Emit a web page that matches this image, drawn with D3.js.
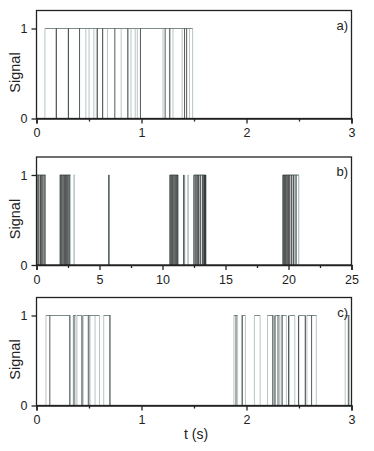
<!DOCTYPE html>
<html>
<head>
<meta charset="utf-8">
<script src="https://cdn.jsdelivr.net/npm/d3@7"></script>
<style>
  body { margin: 0; background: #fff; }
  svg { display: block; font-family: "Liberation Sans", Arial, sans-serif; }
</style>
</head>
<body>
<svg class="chart" width="374" height="451"></svg>
<script>
// panel a (0-3 s)
const ticksA = [0, 1, 2, 3]
const pulsesA = [[0.08, 1.487]]
const lightA = [0.184, 0.30, 0.47, 0.50, 0.546, 0.57, 0.63, 0.676, 0.806, 0.87, 0.90, 0.94, 0.96, 1.205, 1.266, 1.30, 1.387, 1.457]
const darkA = [0.19, 0.305, 0.41, 0.58, 0.63, 0.746, 0.87, 0.99, 1.225, 1.27, 1.41, 1.43]

// panel b (0-25 s)
const ticksB = [0, 5, 10, 15, 20, 25]
const pulsesB = [[0, 0.71], [1.85, 2.7], [2.97, 3.0], [5.74, 5.77], [10.58, 11.24], [11.69, 11.71], [12.02, 12.04], [12.5, 13.44], [19.55, 20.82]]
const lightB = [0.3, 2.2, 2.45, 10.7, 11.0, 11.77, 12.03, 12.6, 12.8, 19.8, 20.5, 20.8]
const darkB = [0.05, 0.18, 0.32, 0.42, 0.52, 0.66, 1.9, 2.0, 2.1, 2.2, 2.3, 2.4, 2.5, 2.6, 5.74,
  10.6, 10.69, 10.8, 10.9, 11.0, 11.1, 11.2, 11.69, 12.5, 12.65, 12.75, 12.86, 13.0, 13.17, 13.28, 13.33, 13.38, 13.42,
  19.57, 19.65, 19.72, 19.8, 19.9, 20.0, 20.1, 20.25, 20.4, 20.6]

// panel c (0-3 s)
const ticksC = [0, 1, 2, 3]
const pulsesC = [[0.09, 0.32], [0.35, 0.375], [0.385, 0.43], [0.445, 0.60], [0.64, 0.705],
  [1.88, 1.915], [1.955, 1.99], [2.075, 2.13], [2.2, 2.255], [2.275, 2.315], [2.33, 2.38], [2.41, 2.46], [2.5, 2.56], [2.575, 2.665], [2.94, 2.98]]
const lightC = [0.49, 0.51, 0.558]
const darkC = [0.127, 0.317, 0.358, 0.434, 0.498, 0.698, 1.9, 1.96, 2.25, 2.27, 2.30, 2.34, 2.40, 2.495, 2.56, 2.62, 2.97]

const yTicks = [0, 1]
const lightColor = '#b8c6c6'
const topColor = '#7f8a8a'
const darkColor = '#2c3030'

const svg = d3.select('.chart')
const left = 36.5, right = 351.5, h = 108

function panel (top, xmax, ticks, minorStep, pulses, light, dark, label, darkWidth) {
  let x = d3.scaleLinear().domain([0, xmax]).range([left, right])
  let y = d3.scaleLinear().domain([0, 1.2]).range([top + h, top])
  let line = d3.line().x(d => x(d[0])).y(d => y(d[1]))
  let g = svg.append('g')

  // light trace: pulses
  g.selectAll('.pulse')
      .data(pulses)
    .enter().append('path')
      .attr('d', p => line([[p[0], 0], [p[0], 1], [p[1], 1], [p[1], 0]]))
      .attr('fill', 'none')
      .attr('stroke', lightColor)
      .attr('stroke-width', 1)

  g.selectAll('.dip')
      .data(light)
    .enter().append('path')
      .attr('d', t => line([[t, 0], [t, 1]]))
      .attr('stroke', lightColor)
      .attr('stroke-width', 1)

  // pulse tops
  g.selectAll('.top')
      .data(pulses)
    .enter().append('path')
      .attr('d', p => line([[p[0], 1], [p[1], 1]]))
      .attr('stroke', topColor)
      .attr('stroke-width', 1)

  // dark trace
  g.selectAll('.dark')
      .data(dark)
    .enter().append('path')
      .attr('d', t => line([[t, 0], [t, 1]]))
      .attr('stroke', darkColor)
      .attr('stroke-opacity', 0.8)
      .attr('stroke-width', darkWidth)

  // frame
  g.append('rect')
      .attr('x', left).attr('y', top)
      .attr('width', right - left).attr('height', h)
      .attr('fill', 'none')
      .attr('stroke', '#222')
      .attr('stroke-width', 1.3)

  let minor = d3.range(minorStep, xmax, minorStep * 2)
  let xMinor = d3.axisBottom(x).tickValues(minor).tickSize(3).tickFormat('')
  g.append('g')
      .attr('transform', 'translate(0,' + (top + h) + ')')
      .call(xMinor)
      .call(a => a.select('.domain').remove())

  let xAxis = d3.axisBottom(x).tickValues(ticks).tickSize(5).tickPadding(5).tickFormat(d3.format('d'))
  let xa = g.append('g')
      .attr('transform', 'translate(0,' + (top + h) + ')')
      .call(xAxis)
  xa.select('.domain').attr('stroke-width', 1.6).attr('stroke', '#222')

  let yAxis = d3.axisLeft(y).tickValues(yTicks).tickSize(5).tickPadding(4).tickFormat(d3.format('d'))
  let ya = g.append('g')
      .attr('transform', 'translate(' + left + ',0)')
      .call(yAxis)
  ya.select('.domain').remove()

  g.selectAll('.tick line').attr('stroke', '#222').attr('stroke-width', 1.3)
  g.selectAll('.tick text').attr('fill', '#222').style('font-size', '12.5px')
  g.selectAll('.tick text').style('font-family', '"Liberation Sans", Arial, sans-serif')

  g.append('text')
      .attr('transform', 'translate(20,' + (top + h / 2 + 8) + ') rotate(-90)')
      .attr('text-anchor', 'middle')
      .attr('fill', '#222')
      .style('font-size', '14.5px')
      .text('Signal')

  g.append('text')
      .attr('x', 348)
      .attr('y', top + 19)
      .attr('text-anchor', 'end')
      .attr('fill', '#222')
      .style('font-size', '13px')
      .text(label)
}

panel(10.5, 3, ticksA, 0.5, pulsesA, lightA, darkA, 'a)', 1)
panel(157, 25, ticksB, 2.5, pulsesB, lightB, darkB, 'b)', 1.3)
panel(297.5, 3, ticksC, 0.5, pulsesC, lightC, darkC, 'c)', 1)

svg.append('text')
    .attr('x', 196)
    .attr('y', 439)
    .attr('text-anchor', 'middle')
    .attr('fill', '#222')
    .style('font-size', '14px')
    .text('t (s)')
</script>
</body>
</html>
